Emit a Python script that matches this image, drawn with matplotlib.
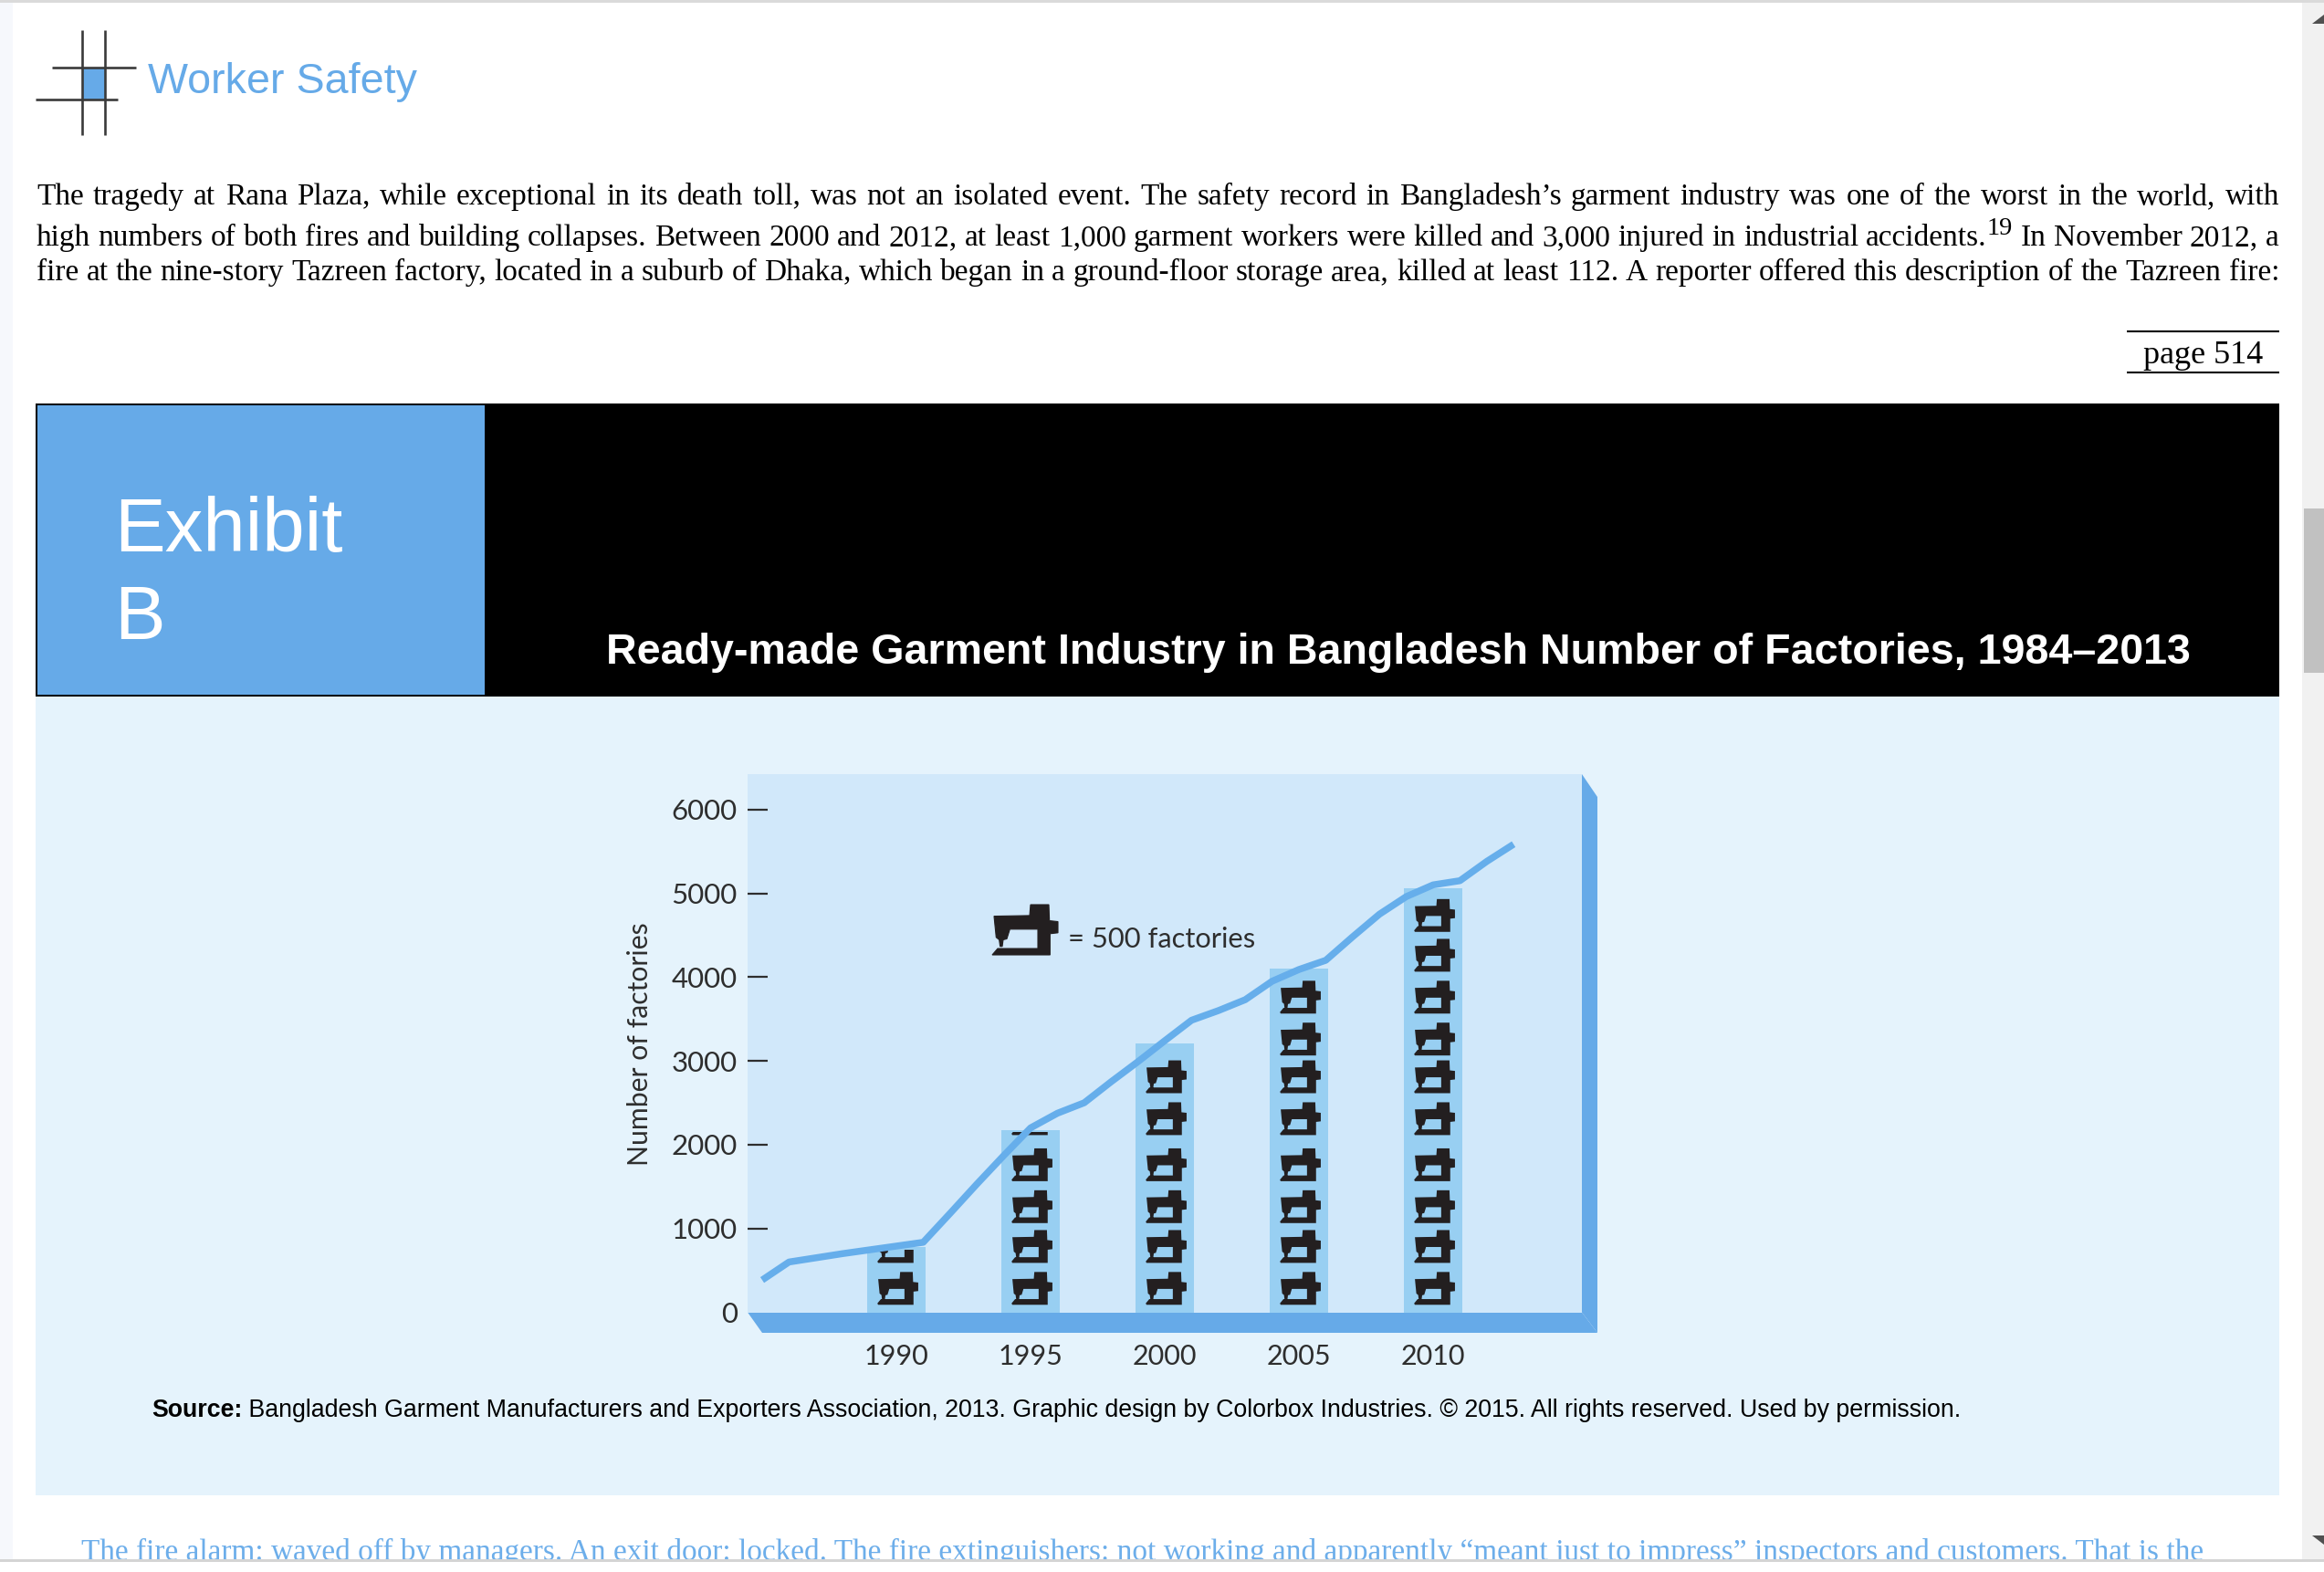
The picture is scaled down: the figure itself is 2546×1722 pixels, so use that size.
import matplotlib
matplotlib.use("Agg")
import matplotlib.pyplot as plt
from matplotlib.patches import Rectangle, Polygon, PathPatch
from matplotlib.path import Path
from matplotlib.transforms import Affine2D

# ---- chart data ----
bar_years = [1990, 1995, 2000, 2005, 2010]
bar_factories = [775, 2175, 3210, 4100, 5060]
icon_counts = [2, 5, 6, 8, 10]
line_years = [1985, 1986, 1987, 1988, 1989, 1990, 1991, 1992, 1993, 1994, 1995, 1996, 1997, 1998,
              1999, 2000, 2001, 2002, 2003, 2004, 2005, 2006, 2007, 2008, 2009, 2010, 2011, 2012, 2013]
line_factories = [385, 600, 650, 700, 745, 790, 835, 1180, 1530, 1870, 2200, 2375, 2500, 2750,
                  2990, 3240, 3485, 3600, 3730, 3950, 4090, 4200, 4480, 4750, 4960, 5100, 5150, 5380, 5585]
y_ticks = [0, 1000, 2000, 3000, 4000, 5000, 6000]
y_label = "Number of factories"
legend_text = "= 500 factories"

# ---- page text ----
page_title = "Worker Safety"
body_lines = [
    "The tragedy at Rana Plaza, while exceptional in its death toll, was not an isolated event. The safety record in Bangladesh’s garment industry was one of the worst in the world, with",
    "high numbers of both fires and building collapses. Between 2000 and 2012, at least 1,000 garment workers were killed and 3,000 injured in industrial accidents.^19 In November 2012, a",
    "fire at the nine-story Tazreen factory, located in a suburb of Dhaka, which began in a ground-floor storage area, killed at least 112. A reporter offered this description of the Tazreen fire:",
]
page_ref = "page 514"
exhibit_words = ["Exhibit", "B"]
exhibit_title = "Ready-made Garment Industry in Bangladesh Number of Factories, 1984–2013"
source_bold = "Source:"
source_rest = " Bangladesh Garment Manufacturers and Exporters Association, 2013. Graphic design by Colorbox Industries. © 2015. All rights reserved. Used by permission."
next_line = "The fire alarm: waved off by managers. An exit door: locked. The fire extinguishers: not working and apparently “meant just to impress” inspectors and customers. That is the"

BLUE = "#66AAE8"
W, H = 2546, 1722
fig = plt.figure(figsize=(W / 100, H / 100), dpi=100, facecolor="white")
page = fig.add_axes([0, 0, 1, 1])
page.set_xlim(0, W)
page.set_ylim(H, 0)
page.axis("off")
SERIF = "Liberation Serif"
SANS = "Liberation Sans"
renderer = fig.canvas.get_renderer()


def rect(x0, y0, x1, y1, color, z=1):
    page.add_patch(Rectangle((x0, y0), x1 - x0, y1 - y0, facecolor=color, edgecolor="none", zorder=z))


def text_width(s, **kw):
    t = page.text(0, 0, s, **kw)
    w = t.get_window_extent(renderer).width
    t.remove()
    return w


def justified(line, y, x0, x1, size, color="black"):
    words = line.split(" ")
    items = []
    total = 0
    for word in words:
        if "^" in word:
            main, sup = word.split("^")
            w1 = text_width(main, family=SERIF, fontsize=size)
            w2 = text_width(sup, family=SERIF, fontsize=size * 0.85)
            items.append((main, sup, w1, w2))
            total += w1 + w2
        else:
            w1 = text_width(word, family=SERIF, fontsize=size)
            items.append((word, None, w1, 0))
            total += w1
    gap = (x1 - x0 - total) / (len(items) - 1)
    x = x0
    for main, sup, w1, w2 in items:
        page.text(x, y, main, family=SERIF, fontsize=size, color=color, va="baseline", ha="left", zorder=5)
        x += w1
        if sup:
            page.text(x, y - 12, sup, family=SERIF, fontsize=size * 0.85, color=color, va="baseline", ha="left", zorder=5)
            x += w2
        x += gap


# browser chrome
rect(0, 0, 14, H, "#F6F8FC", 0.5)
rect(0, 0, W, 3, "#DADADA", 8)
rect(2522, 0, W, H, "#F1F1F1", 1)
rect(2524, 557, W, 737, "#C1C1C1", 2)
page.add_patch(Polygon([(2533, 26), (2546, 26), (2546, 16)], facecolor="#505050", edgecolor="none", zorder=3))
page.add_patch(Polygon([(2533, 1682), (2546, 1682), (2546, 1692)], facecolor="#505050", edgecolor="none", zorder=3))
rect(0, 1708, W, 1711, "#D4D4D4", 9)
rect(0, 1711, W, H, "white", 8)

# heading logo
rect(90, 74, 115, 109, BLUE, 2)
for xv in (90, 115):
    page.plot([xv, xv], [33, 148], color="#3A3A3A", lw=1.9, solid_capstyle="butt", zorder=3)
page.plot([57, 149], [74, 74], color="#3A3A3A", lw=1.9, solid_capstyle="butt", zorder=3)
page.plot([39, 129], [109, 109], color="#3A3A3A", lw=1.9, solid_capstyle="butt", zorder=3)
page.text(162, 102, page_title, family=SANS, fontsize=33.6, color=BLUE, va="baseline")

# body
for line, yy in zip(body_lines, (224, 269, 307)):
    justified(line, yy, 40, 2497, 24)

page.plot([2330, 2497], [363, 363], color="black", lw=1.5, solid_capstyle="butt")
page.plot([2330, 2497], [408, 408], color="black", lw=1.5, solid_capstyle="butt")
page.text(2348, 398, page_ref, family=SERIF, fontsize=26, color="black", va="baseline")

# exhibit banner
rect(39, 442, 2497, 763, "black", 1)
rect(41, 444, 531, 761, BLUE, 2)
page.text(125, 604, exhibit_words[0], family=SANS, fontsize=60, color="white", va="baseline", zorder=3)
page.text(125, 700, exhibit_words[1], family=SANS, fontsize=60, color="white", va="baseline", zorder=3)
page.text(664, 727, exhibit_title, family=SANS, fontsize=33.6, weight="bold", color="white", va="baseline", zorder=3)
rect(39, 763, 2497, 1638, "#E5F3FC", 1)

# source
t = page.text(166, 1552, source_bold, family=SANS, fontsize=19.25, weight="bold", color="black", va="baseline", zorder=3)
bw = t.get_window_extent(renderer).width
page.text(166 + bw, 1552, source_rest, family=SANS, fontsize=19.25, color="black", va="baseline", zorder=3)

# next page line, cut by the window edge
page.text(89, 1709, next_line, family=SERIF, fontsize=23.95, color="#6DAEEA", va="baseline", zorder=5)

# 3-D frame of the chart panel
PX0, PX1, PY0, PY1 = 819, 1733, 848, 1437.5
page.add_patch(Polygon([(PX0, PY1), (PX1, PY1), (1750, 1460), (835, 1460)], facecolor=BLUE, edgecolor="none", zorder=2))
page.add_patch(Polygon([(PX1, PY0), (1750, 873), (1750, 1460), (PX1, PY1)], facecolor=BLUE, edgecolor="none", zorder=2))

# chart axes
ax = fig.add_axes([PX0 / W, 1 - PY1 / H, (PX1 - PX0) / W, (PY1 - PY0) / H], zorder=4)
ax.set_facecolor("#D1E8FA")
PX_PER_YEAR = 29.4
PX_PER_UNIT = 0.0918
ax.set_xlim(1990 - (982 - PX0) / PX_PER_YEAR, 1990 + (PX1 - 982) / PX_PER_YEAR)
ax.set_ylim(0, (PY1 - PY0) / PX_PER_UNIT)
for s in ax.spines.values():
    s.set_visible(False)

CHART_FONT = "Lato"
INK = "#2E2E2E"
ax.set_yticks(y_ticks)
ax.set_yticklabels([str(v) for v in y_ticks], family=CHART_FONT, fontsize=22.5, color=INK)
ax.tick_params(axis="y", direction="in", length=16, width=1.6, color=INK, pad=8)
ax.yaxis.get_major_ticks()[0].tick1line.set_visible(False)
ax.set_xticks(bar_years)
ax.set_xticklabels([str(v) for v in bar_years], family=CHART_FONT, fontsize=22, color=INK)
ax.tick_params(axis="x", length=0, pad=25)
fig.text(701 / W, 1 - 1144 / H, y_label, rotation=90, family=CHART_FONT, fontsize=21.7, color=INK,
         ha="center", va="center", zorder=6)

# sewing machine glyph, unit square
icon_outline = [(118, 100), (235, 98), (238, 62), (298, 62), (300, 115), (328, 118), (328, 155), (302, 158),
                (302, 228), (112, 228), (130, 207), (262, 207), (262, 143), (170, 143), (160, 175), (148, 178),
                (145, 200), (138, 200), (135, 178), (125, 170), (118, 100)]
verts = [((x - 112) / 216, (228 - y) / 166) for x, y in icon_outline]
icon = Path(verts, closed=True)


def draw_icon(x, y, w, h, clip_top=None, edge=0.0):
    p = PathPatch(icon, facecolor="#231F20", edgecolor="#231F20", linewidth=edge,
                  transform=Affine2D().scale(w, h).translate(x, y) + ax.transData, zorder=3)
    ax.add_patch(p)
    if clip_top is not None:
        clip = Rectangle((x - 1, y - 100), w + 2, clip_top - y + 100, transform=ax.transData)
        p.set_clip_path(clip)


ICON_W = 43 / PX_PER_YEAR
ICON_H = 34 / PX_PER_UNIT
icon_rows = [100, 600, 1075, 1575, 2125, 2625, 3075, 3575, 4075, 4550]
ax.bar(bar_years, bar_factories, width=64 / PX_PER_YEAR, color="#98CFF2", zorder=2)
for yr, val, n in zip(bar_years, bar_factories, icon_counts):
    for row in icon_rows[:n]:
        draw_icon(yr - ICON_W / 2 + 0.05, row, ICON_W, ICON_H, clip_top=val - 25, edge=1.4)
ax.plot(line_years, line_factories, color="#66AEEB", lw=5.4, solid_joinstyle="round", solid_capstyle="butt", zorder=5)

# legend
draw_icon(1990 + (1087 - 982) / PX_PER_YEAR, (PY1 - 1046) / PX_PER_UNIT, 72 / PX_PER_YEAR, 55 / PX_PER_UNIT, edge=0.8)
ax.text(1990 + (1170 - 982) / PX_PER_YEAR, (PY1 - 1038) / PX_PER_UNIT, legend_text, family=CHART_FONT,
        fontsize=22.2, color=INK, va="baseline", ha="left", zorder=6)

fig.savefig("out.png", dpi=100, facecolor="white")
